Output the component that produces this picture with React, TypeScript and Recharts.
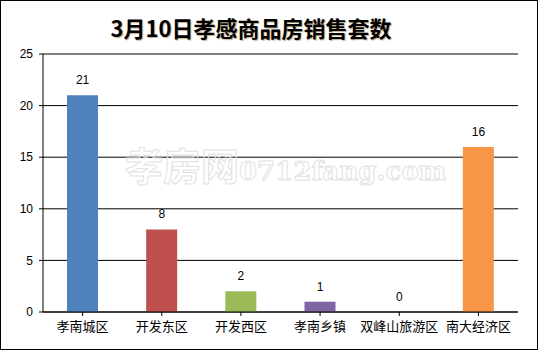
import { ComposedChart, Bar, Line, XAxis, YAxis, CartesianGrid, Cell, LabelList } from "recharts";

const districts = ["孝南城区", "开发东区", "开发西区", "孝南乡镇", "双峰山旅游区", "南大经济区"];
const sales = [21, 8, 2, 1, 0, 16];
const barColors = ["#4F81BD", "#C0504D", "#9BBB59", "#8064A2", "#4BACC6", "#F79646"];
const yTicks = [0, 5, 10, 15, 20, 25];
const chartTitle = "3月10日孝感商品房销售套数";

const data = districts.map((name, i) => ({ name, value: sales[i] }));

const font = "'Liberation Sans', 'Noto Sans CJK SC', sans-serif";

export default function App() {
  return (
    <div style={{ position: "absolute", left: 0, top: 0, width: 538, height: 350, background: "#fff", fontFamily: font }}>
      {/* 标题 */}
      <div
        style={{
          position: "absolute",
          left: 0,
          top: 12,
          width: 502,
          textAlign: "center",
          fontSize: 22,
          fontWeight: "bold",
          lineHeight: "30px",
          color: "#000",
          fontFamily: "'Noto Sans CJK SC', sans-serif",
          textShadow: "1px 1px 1px rgba(120,80,20,0.45)",
        }}
      >
        {chartTitle}
      </div>

      <ComposedChart width={538} height={350} data={data} margin={{ top: 54, right: 20, bottom: 0, left: 0 }}>
        <CartesianGrid horizontal vertical={false} stroke="#000" strokeWidth={1} />
        <XAxis
          dataKey="name"
          height={38}
          tickSize={4}
          tickMargin={6}
          axisLine={{ stroke: "#000" }}
          tickLine={{ stroke: "#000" }}
          tick={{ fill: "#000", fontSize: 13, fontFamily: font }}
          interval={0}
        />
        <YAxis
          width={43}
          domain={[0, 25]}
          ticks={yTicks}
          tickSize={4}
          tickMargin={6}
          axisLine={{ stroke: "#000" }}
          tickLine={{ stroke: "#000" }}
          tick={{ fill: "#000", fontSize: 12, fontFamily: font }}
        />
        <Bar dataKey="value" barSize={31} isAnimationActive={false}>
          {data.map((d, i) => (
            <Cell key={d.name} fill={barColors[i]} />
          ))}
        </Bar>
        {/* 数据标签（含 0 值） */}
        <Line dataKey="value" stroke="none" dot={false} activeDot={false} isAnimationActive={false}>
          <LabelList dataKey="value" position="top" offset={11} fill="#000" fontSize={12} fontFamily={font} />
        </Line>
      </ComposedChart>

      {/* 水印 */}
      <div
        style={{
          position: "absolute",
          left: 125,
          top: 136,
          whiteSpace: "nowrap",
          pointerEvents: "none",
          color: "transparent",
          WebkitTextStroke: "1px #e2e2e2",
        }}
      >
        <span style={{ fontSize: 38, fontFamily: "'Noto Sans CJK SC', sans-serif", fontWeight: "bold" }}>孝房网</span>
        <span style={{ fontSize: 26, fontFamily: "'DejaVu Serif', serif", fontWeight: "bold" }}>0712fang.com</span>
      </div>

      {/* 外框 */}
      <div
        style={{
          position: "absolute",
          left: 0,
          top: 0,
          width: 538,
          height: 350,
          boxSizing: "border-box",
          border: "1px solid #000",
          pointerEvents: "none",
        }}
      />
    </div>
  );
}
